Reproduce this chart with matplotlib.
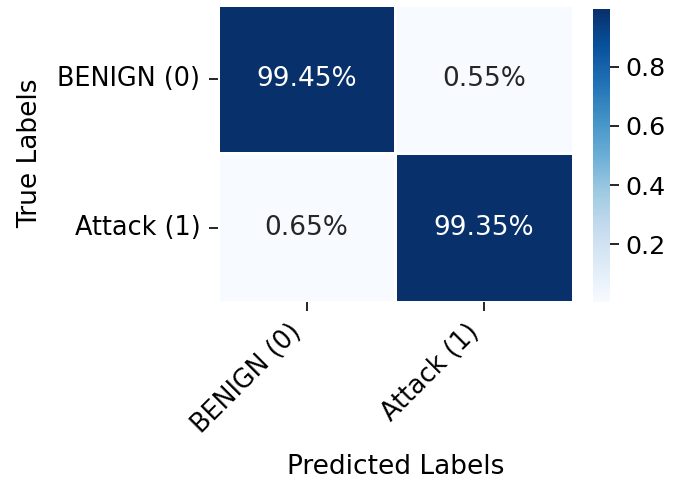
import numpy as np
import matplotlib
matplotlib.use("Agg")
import matplotlib.pyplot as plt
import seaborn as sns

class_names = ["BENIGN (0)", "Attack (1)"]
row_benign = [0.9945, 0.0055]
row_attack = [0.0065, 0.9935]

cm = np.array([row_benign, row_attack])
annot = np.array([[f"{v*100:.2f}%" for v in row] for row in cm])

fig = plt.figure(figsize=(6.85, 4.8), dpi=100)
ax = fig.add_axes([0.318, 0.371, 0.518, 0.619])
cax = fig.add_axes([0.866, 0.371, 0.024, 0.61])

sns.heatmap(cm, annot=annot, fmt="", cmap="Blues", linewidths=2, linecolor="white",
            xticklabels=class_names, yticklabels=class_names,
            annot_kws={"size": 19}, ax=ax, cbar_ax=cax)

ax.set_xlabel("Predicted Labels", fontsize=19, labelpad=11)
ax.set_ylabel("True Labels", fontsize=19, labelpad=10)
plt.setp(ax.get_xticklabels(), rotation=45, ha="right", fontsize=18.4)
plt.setp(ax.get_yticklabels(), rotation=0, fontsize=18.4)
ax.tick_params(axis="both", length=6.5, width=1.2, pad=6)
cax.tick_params(labelsize=18.2, length=6.5, width=1.2, pad=5)
cax.set_yticks([0.2, 0.4, 0.6, 0.8])

fig.savefig("out.png", dpi=100)
